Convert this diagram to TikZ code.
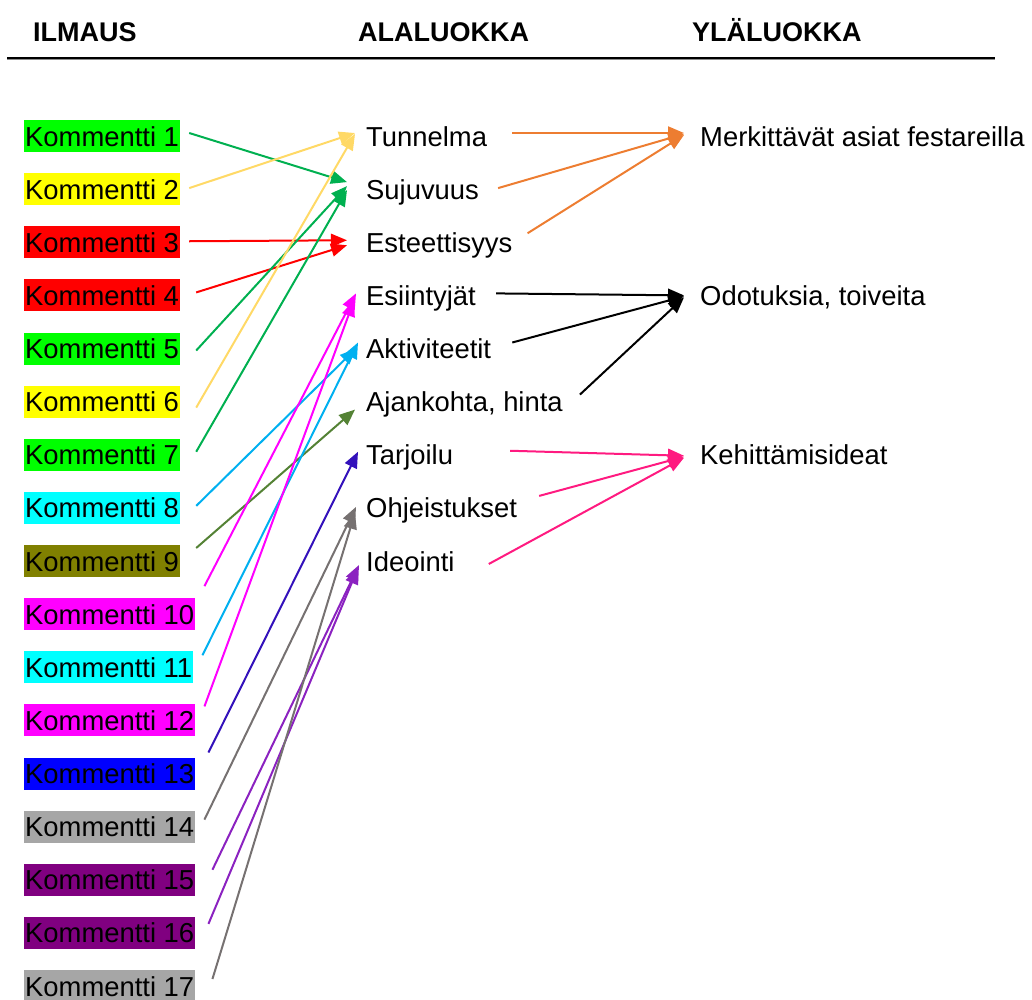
\documentclass[tikz,border=0pt]{standalone}
\usepackage{fontspec}
\setmainfont{Liberation Sans}
\usetikzlibrary{arrows.meta}
\definecolor{bgreen}{HTML}{00FF00}
\definecolor{byellow}{HTML}{FFFF00}
\definecolor{bred}{HTML}{FF0000}
\definecolor{bcyan}{HTML}{00FFFF}
\definecolor{bolive}{HTML}{808000}
\definecolor{bmag}{HTML}{FF00FF}
\definecolor{bblue}{HTML}{0000FF}
\definecolor{bgray}{HTML}{A6A6A6}
\definecolor{bpurple}{HTML}{800080}
\definecolor{agreen}{HTML}{00B050}
\definecolor{ayellow}{HTML}{FFD966}
\definecolor{ared}{HTML}{FF0000}
\definecolor{acyan}{HTML}{00B0F0}
\definecolor{aolive}{HTML}{548235}
\definecolor{amag}{HTML}{FF00FF}
\definecolor{ablue}{HTML}{3311BB}
\definecolor{agray}{HTML}{767171}
\definecolor{apurple}{HTML}{8B22C0}
\definecolor{aorange}{HTML}{ED7D31}
\definecolor{apink}{HTML}{FF1A80}
\tikzset{
  txt/.style={font=\fontsize{27.4}{32}\selectfont, inner sep=0pt, text height=24pt, text depth=4pt, anchor=base west},
  komm/.style={txt, fill=#1, inner xsep=1pt, inner ysep=2pt},
  head/.style={font=\fontsize{27}{32}\selectfont\bfseries, inner sep=0pt, anchor=base west},
  conn/.style={draw=#1, line width=2pt, -{Triangle[length=16pt,width=13pt]}},
}
\begin{document}
\begin{tikzpicture}[x=1pt,y=-1pt]
\useasboundingbox (0,0) rectangle (1032,999);
% headers
\node[head] (h1) at (33,41) {ILMAUS};
\node[head] (h2) at (358,41) {ALALUOKKA};
\node[head] (h3) at (692,41) {YLÄLUOKKA};
\coordinate (la) at (7,58);
\coordinate (lb) at (995,58);
\draw[line width=1pt, black!45] ([yshift=-1.4pt]la) -- ([yshift=-1.4pt]lb);
\draw[line width=1.6pt, black] (la) -- (lb);
% comments
\node[komm=bgreen]   (k1)  at (24,146)    {Kommentti 1};
\node[komm=byellow]  (k2)  at (24,199.1)  {Kommentti 2};
\node[komm=bred]     (k3)  at (24,252.25) {Kommentti 3};
\node[komm=bred]     (k4)  at (24,305.4)  {Kommentti 4};
\node[komm=bgreen]   (k5)  at (24,358.5)  {Kommentti 5};
\node[komm=byellow]  (k6)  at (24,411.6)  {Kommentti 6};
\node[komm=bgreen]   (k7)  at (24,464.75) {Kommentti 7};
\node[komm=bcyan]    (k8)  at (24,517.9)  {Kommentti 8};
\node[komm=bolive]   (k9)  at (24,571)    {Kommentti 9};
\node[komm=bmag]     (k10) at (24,624.1)  {Kommentti 10};
\node[komm=bcyan]    (k11) at (24,677.25) {Kommentti 11};
\node[komm=bmag]     (k12) at (24,730.4)  {Kommentti 12};
\node[komm=bblue]    (k13) at (24,783.5)  {Kommentti 13};
\node[komm=bgray]    (k14) at (24,836.6)  {Kommentti 14};
\node[komm=bpurple]  (k15) at (24,889.75) {Kommentti 15};
\node[komm=bpurple]  (k16) at (24,942.9)  {Kommentti 16};
\node[komm=bgray]    (k17) at (24,996)    {Kommentti 17};
% subclasses
\node[txt] (s1) at (366,146)    {Tunnelma};
\node[txt] (s2) at (366,199.1)  {Sujuvuus};
\node[txt] (s3) at (366,252.25) {Esteettisyys};
\node[txt] (s4) at (366,305.4)  {Esiintyjät};
\node[txt] (s5) at (366,358.5)  {Aktiviteetit};
\node[txt] (s6) at (366,411.6)  {Ajankohta, hinta};
\node[txt] (s7) at (366,464.75) {Tarjoilu};
\node[txt] (s8) at (366,517.9)  {Ohjeistukset};
\node[txt] (s9) at (366,571)    {Ideointi};
% upper classes
\node[txt] (u1) at (700,146)    {Merkittävät asiat festareilla};
\node[txt] (u2) at (700,305.4)  {Odotuksia, toiveita};
\node[txt] (u3) at (700,464.75) {Kehittämisideat};
% comment -> subclass
\draw[conn=agreen]  ([shift={(9,-3)}]k1.east)   -- ([shift={(-19,-7)}]s2.west);
\draw[conn=ayellow] ([shift={(9,-1)}]k2.east)   -- ([shift={(-11,-3)}]s1.west);
\draw[conn=ared]    ([shift={(9,-1)}]k3.east)   -- ([shift={(-19,-2)}]s3.west);
\draw[conn=ared]    ([shift={(16,-3)}]k4.east)  -- ([shift={(-19,3)}]s3.west);
\draw[conn=agreen]  ([shift={(16,2)}]k5.east)   -- ([shift={(-19,-3)}]s2.west);
\draw[conn=ayellow] ([shift={(16,6)}]k6.east)   -- ([shift={(-11,-2)}]s1.west);
\draw[conn=agreen]  ([shift={(16,-3)}]k7.east)  -- ([shift={(-19,1)}]s2.west);
\draw[conn=acyan]   ([shift={(16,-2)}]k8.east)  -- ([shift={(-10,0)}]s5.west);
\draw[conn=aolive]  ([shift={(16,-13)}]k9.east) -- ([shift={(-11,8)}]s6.west);
\draw[conn=amag]    ([shift={(9,-28)}]k10.east) -- ([shift={(-10,-2)}]s4.west);
\draw[conn=acyan]   ([shift={(9,-12)}]k11.east) -- ([shift={(-8,-6)}]s5.west);
\draw[conn=amag]    ([shift={(9,-14)}]k12.east) -- ([shift={(-12,5)}]s4.west);
\draw[conn=ablue]   ([shift={(13,-21)}]k13.east) -- ([shift={(-8,-3)}]s7.west);
\draw[conn=agray]   ([shift={(9,-7)}]k14.east)  -- ([shift={(-10,-1)}]s8.west);
\draw[conn=apurple] ([shift={(17,-10)}]k15.east) -- ([shift={(-7,4)}]s9.west);
\draw[conn=apurple] ([shift={(13,-9)}]k16.east) -- ([shift={(-8,7)}]s9.west);
\draw[conn=agray]   ([shift={(17,-7)}]k17.east) -- ([shift={(-11,5)}]s8.west);
% subclass -> upper class
\draw[conn=aorange] ([shift={(25,-3)}]s1.east)  -- ([shift={(-16,-3)}]u1.west);
\draw[conn=aorange] ([shift={(19,-1)}]s2.east)  -- ([shift={(-16,-2)}]u1.west);
\draw[conn=aorange] ([shift={(15,-9)}]s3.east)  -- ([shift={(-16,-1)}]u1.west);
\draw[conn=black]   ([shift={(20,-2)}]s4.east)  -- ([shift={(-16,0)}]u2.west);
\draw[conn=black]   ([shift={(21,-6)}]s5.east)  -- ([shift={(-16,1)}]u2.west);
\draw[conn=black]   ([shift={(17,-7)}]s6.east)  -- ([shift={(-16,2)}]u2.west);
\draw[conn=apink]   ([shift={(57,-4)}]s7.east)  -- ([shift={(-16,1)}]u3.west);
\draw[conn=apink]   ([shift={(22,-12)}]s8.east) -- ([shift={(-16,2)}]u3.west);
\draw[conn=apink]   ([shift={(34,3)}]s9.east)   -- ([shift={(-16,3)}]u3.west);
\end{tikzpicture}
\end{document}
